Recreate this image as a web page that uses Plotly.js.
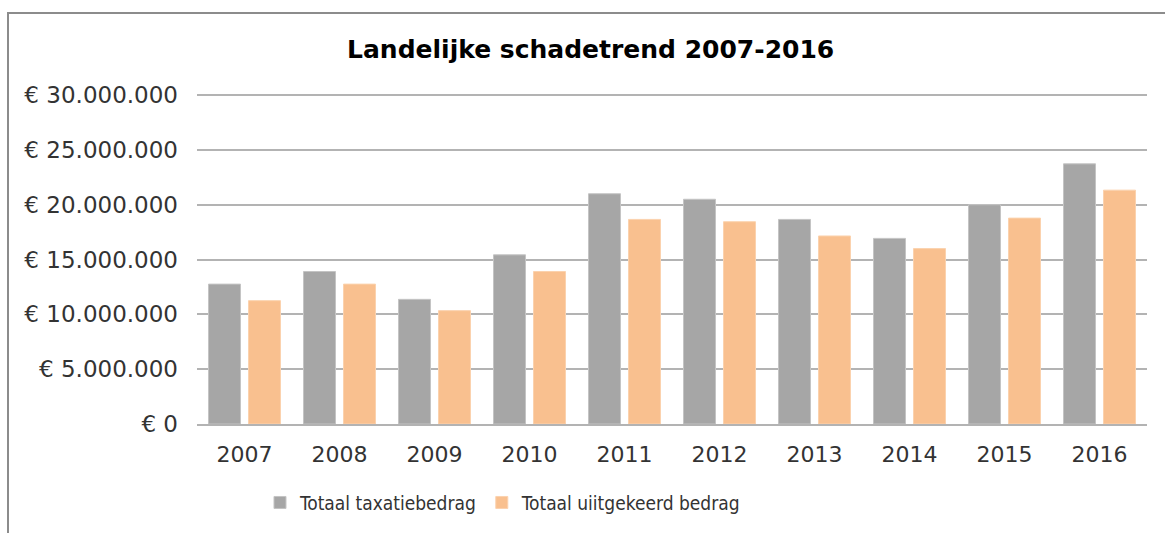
<!DOCTYPE html>
<html>
<head>
<meta charset="utf-8">
<script src="https://cdn.plot.ly/plotly-3.0.1.min.js"></script>
<style>
  html, body { margin: 0; padding: 0; background: #fff; }
  #wrap { position: relative; width: 1165px; height: 533px; overflow: hidden; }
  #chart { width: 1165px; height: 533px; }
  #frame { position: absolute; left: 7px; top: 12px; width: 1200px; height: 600px;
           border-top: 2px solid #8c8c8c; border-left: 2px solid #8c8c8c; pointer-events: none; }
</style>
</head>
<body>
<div id="wrap">
  <div id="chart"></div>
  <div id="frame"></div>
</div>
<script>
const years = ['2007','2008','2009','2010','2011','2012','2013','2014','2015','2016'];
const taxatie = [12760000, 13910000, 11370000, 15430000, 21000000, 20500000, 18660000, 16930000, 20000000, 23730000];
const uitgekeerd = [11250000, 12760000, 10340000, 13910000, 18660000, 18450000, 17150000, 16000000, 18780000, 21330000];
const yTickVals = [0, 5000000, 10000000, 15000000, 20000000, 25000000, 30000000];
const yTickText = ['€ 0', '€ 5.000.000', '€ 10.000.000', '€ 15.000.000', '€ 20.000.000', '€ 25.000.000', '€ 30.000.000'];
const seriesNames = ['Totaal taxatiebedrag', 'Totaal uiitgekeerd bedrag'];

const FONT = 'DejaVu Sans, Verdana, sans-serif';
const LEGEND_FONT = 'DejaVu Sans Condensed, DejaVu Sans, sans-serif';

const traces = [
  { type: 'bar', x: years, y: taxatie, name: seriesNames[0],
    marker: { color: '#a6a6a6', line: { color: '#c4c4c4', width: 1 } } },
  { type: 'bar', x: years, y: uitgekeerd, name: seriesNames[1],
    marker: { color: '#f9c08f', line: { color: '#fbd2ae', width: 1 } } }
];

const layout = {
  width: 1165, height: 533,
  margin: { l: 197, r: 18, t: 93.9, b: 107.5, pad: 0 },
  paper_bgcolor: '#ffffff', plot_bgcolor: '#ffffff',
  barmode: 'group', bargap: 0.158, bargroupgap: 0.2,
  font: { family: FONT, color: '#333333', size: 20 },
  title: { text: '<b>Landelijke schadetrend 2007-2016</b>', xref: 'container', yref: 'container',
           x: 0.507, xanchor: 'center', y: 1 - 49/533, yanchor: 'middle',
           font: { family: FONT, size: 25, color: '#000000' } },
  xaxis: { type: 'category', showgrid: false, zeroline: false, showline: true,
           linecolor: '#b3b3b3', linewidth: 2, ticks: '', ticklabelstandoff: 10,
           tickfont: { family: FONT, size: 22, color: '#333333' }, fixedrange: true },
  yaxis: { range: [0, 30100000], tickvals: yTickVals, ticktext: yTickText,
           showgrid: true, gridcolor: '#b3b3b3', gridwidth: 2, zeroline: false, showline: false,
           ticks: '', ticklabelstandoff: 18,
           tickfont: { family: FONT, size: 23, color: '#333333' }, fixedrange: true },
  showlegend: true,
  legend: { orientation: 'h', x: 0.0663, xanchor: 'left', y: -0.2345, yanchor: 'middle',
            font: { family: LEGEND_FONT, size: 19, color: '#333333' }, itemwidth: 30,
            traceorder: 'normal', bgcolor: 'rgba(0,0,0,0)' }
};

Plotly.newPlot('chart', traces, layout, { displayModeBar: false, staticPlot: true });
</script>
</body>
</html>
